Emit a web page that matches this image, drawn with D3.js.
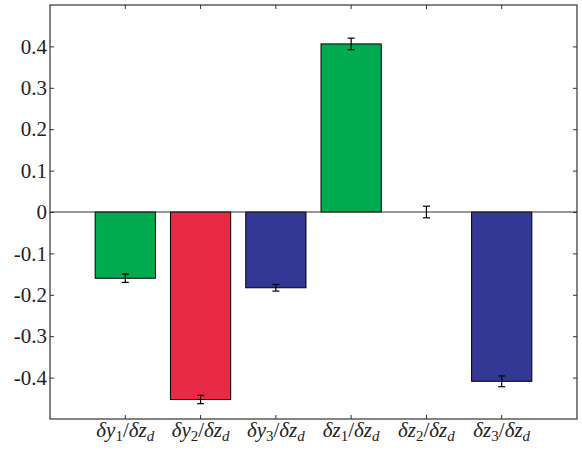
<!DOCTYPE html>
<html><head><meta charset="utf-8">
<script src="https://cdn.jsdelivr.net/npm/d3@7"></script>
<style>
body{margin:0;background:#fff;font-family:"Liberation Serif",serif}
#c text{font-family:"Liberation Serif",serif !important}
</style>
</head><body>
<svg id="c" width="582" height="450"></svg>
<script>
const categories = ["dy1/dzd","dy2/dzd","dy3/dzd","dz1/dzd","dz2/dzd","dz3/dzd"];
const labelVar = ["y","y","y","z","z","z"];
const labelIdx = ["1","2","3","1","2","3"];
const values = [-0.160, -0.453, -0.183, 0.406, 0.0, -0.409];
const errors = [0.010, 0.010, 0.008, 0.014, 0.014, 0.013];
const colors = ["#00ab50","#e92a45","#333896","#00ab50","#00ab50","#333896"];
const yTicks = [-0.4,-0.3,-0.2,-0.1,0,0.1,0.2,0.3,0.4];

const L=50,R=577,T=5,B=419;
const svg=d3.select("#c");
const x=d3.scaleBand().domain(categories).range([L,R]).paddingInner(0.2).paddingOuter(0.6);
const y=d3.scaleLinear().domain([-0.5,0.5]).range([B,T]);
const font="Liberation Serif";

// bars
svg.append("g").selectAll("rect").data(categories).join("rect")
  .attr("x",d=>x(d)).attr("width",x.bandwidth())
  .attr("y",(d,i)=>y(Math.max(0,values[i])))
  .attr("height",(d,i)=>Math.abs(y(values[i])-y(0)))
  .attr("fill",(d,i)=>colors[i]).attr("stroke","#000").attr("stroke-width",1)
  .attr("display",(d,i)=>values[i]===0?"none":null);

// zero line
svg.append("line").attr("x1",L).attr("x2",R).attr("y1",y(0)).attr("y2",y(0))
  .attr("stroke","#333").attr("stroke-width",1);

// error bars
const eg=svg.append("g").attr("stroke","#000").attr("stroke-width",1.2);
categories.forEach((c,i)=>{
  const cx=x(c)+x.bandwidth()/2;
  const y1=y(values[i]-errors[i]), y2=y(values[i]+errors[i]);
  eg.append("line").attr("x1",cx).attr("x2",cx).attr("y1",y1).attr("y2",y2);
  eg.append("line").attr("x1",cx-3.5).attr("x2",cx+3.5).attr("y1",y1).attr("y2",y1);
  eg.append("line").attr("x1",cx-3.5).attr("x2",cx+3.5).attr("y1",y2).attr("y2",y2);
});

// axes
const fmt=d=>d===0?"0":d3.format(".1f")(d).replace("−","-");
const ay=svg.append("g").attr("transform",`translate(${L},0)`)
  .call(d3.axisLeft(y).tickValues(yTicks).tickSizeInner(-4).tickSizeOuter(0).tickPadding(3).tickFormat(fmt));
ay.select(".domain").remove();
ay.attr("font-family",font).attr("font-size",21);
ay.selectAll("text").attr("fill","#222");
ay.selectAll("line").attr("stroke","#333");
const ar=svg.append("g").attr("transform",`translate(${R},0)`)
  .call(d3.axisRight(y).tickValues(yTicks).tickSizeInner(-4).tickSizeOuter(0).tickFormat(""));
ar.select(".domain").remove(); ar.selectAll("line").attr("stroke","#333");
const at=svg.append("g").attr("transform",`translate(0,${T})`)
  .call(d3.axisTop(x).tickSizeInner(-4).tickSizeOuter(0).tickFormat(""));
at.select(".domain").remove(); at.selectAll("line").attr("stroke","#333");
const ab=svg.append("g").attr("transform",`translate(0,${B})`)
  .call(d3.axisBottom(x).tickSizeInner(-4).tickSizeOuter(0).tickFormat(""));
ab.select(".domain").remove(); ab.selectAll("line").attr("stroke","#333");

// frame
svg.append("rect").attr("x",L).attr("y",T).attr("width",R-L).attr("height",B-T)
  .attr("fill","none").attr("stroke","#333").attr("stroke-width",1.2);

// x labels
const lg=svg.append("g").attr("font-family",font).attr("font-size",21).attr("fill","#222");
categories.forEach((c,i)=>{
  const t=lg.append("text").attr("x",x(c)+x.bandwidth()/2).attr("y",437)
    .attr("text-anchor","middle").attr("font-style","italic");
  t.append("tspan").text("δ"+labelVar[i]);
  t.append("tspan").attr("font-size",15).attr("dy",4).attr("font-style","normal").text(labelIdx[i]);
  t.append("tspan").attr("dy",-4).attr("font-style","normal").text("/");
  t.append("tspan").text("δz");
  t.append("tspan").attr("font-size",15).attr("dy",4).text("d");
});
</script>
</body></html>
